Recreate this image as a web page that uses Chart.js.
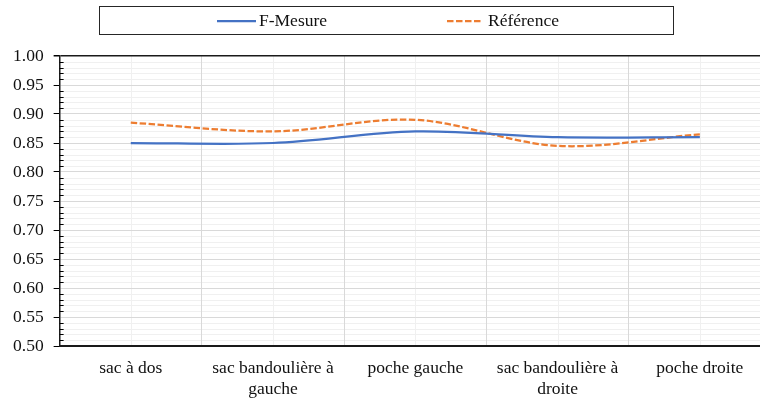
<!DOCTYPE html>
<html>
<head>
<meta charset="utf-8">
<script src="https://cdn.jsdelivr.net/npm/chart.js@4"></script>
<style>
  html, body { margin: 0; padding: 0; background: #fff; overflow: hidden; }
  #wrap { width: 760px; height: 400px; overflow: hidden; }
</style>
</head>
<body>
<div id="wrap"><canvas id="myChart" width="772" height="412"></canvas></div>
<script>
// categories (les libellés longs passent sur deux lignes)
const categories = ["sac à dos", ["sac bandoulière à", "gauche"], "poche gauche", ["sac bandoulière à", "droite"], "poche droite"];
const fMesure = [0.85, 0.85, 0.87, 0.86, 0.86];
const reference = [0.885, 0.87, 0.89, 0.845, 0.865];
const seriesNames = ["F-Mesure", "Référence"];
const yMin = 0.5;
const yMax = 1.0;
const yStep = 0.05;
const yMinorStep = 0.01;

const font = "'Liberation Serif', 'Times New Roman', serif";

// petit quadrillage secondaire + graduations mineures
const minorGrid = {
	id: "minorGrid",
	beforeDraw(chart) {
		const { ctx, chartArea, scales } = chart;
		const y = scales.y;
		const x = scales.x;
		ctx.save();
		ctx.lineWidth = 1;
		ctx.strokeStyle = "#f0f0f0";
		const n = Math.round((yMax - yMin) / yMinorStep);
		for (let i = 1; i < n; i++) {
			if (i % 5 === 0) continue;
			const py = Math.round(y.getPixelForValue(yMin + i * yMinorStep)) + 0.5;
			ctx.beginPath();
			ctx.moveTo(chartArea.left, py);
			ctx.lineTo(chartArea.right, py);
			ctx.stroke();
		}
		categories.forEach((c, i) => {
			const px = Math.round(x.getPixelForValue(i)) + 0.5;
			ctx.beginPath();
			ctx.moveTo(px, chartArea.top);
			ctx.lineTo(px, chartArea.bottom);
			ctx.stroke();
		});
		ctx.restore();
	},
	afterDraw(chart) {
		const { ctx, chartArea, scales } = chart;
		const y = scales.y;
		ctx.save();
		ctx.strokeStyle = "#000";
		ctx.lineWidth = 1;
		const n = Math.round((yMax - yMin) / yMinorStep);
		for (let i = 1; i < n; i++) {
			if (i % 5 === 0) continue;
			const py = Math.round(y.getPixelForValue(yMin + i * yMinorStep)) + 0.5;
			ctx.beginPath();
			ctx.moveTo(chartArea.left, py);
			ctx.lineTo(chartArea.left + 4, py);
			ctx.stroke();
		}
		ctx.restore();
	}
};

// légende encadrée façon Excel
const boxLegend = {
	id: "boxLegend",
	afterDraw(chart) {
		const ctx = chart.ctx;
		ctx.save();
		ctx.strokeStyle = "#262626";
		ctx.lineWidth = 1;
		ctx.strokeRect(99.5, 6.5, 574, 28);
		const items = [
			{ x1: 217, x2: 256, tx: 259 },
			{ x1: 447, x2: 481, tx: 488 }
		];
		chart.data.datasets.forEach((ds, i) => {
			const it = items[i];
			ctx.strokeStyle = ds.borderColor;
			ctx.lineWidth = ds.borderWidth;
			ctx.setLineDash(ds.borderDash || []);
			ctx.beginPath();
			ctx.moveTo(it.x1, 21);
			ctx.lineTo(it.x2, 21);
			ctx.stroke();
			ctx.setLineDash([]);
			ctx.fillStyle = "#111";
			ctx.font = "17.5px " + font;
			ctx.textBaseline = "middle";
			ctx.fillText(ds.label, it.tx, 21);
		});
		ctx.restore();
	}
};

const data = {
	labels: categories,
	datasets: [
		{
			label: seriesNames[0],
			data: fMesure,
			borderColor: "#4472C4",
			backgroundColor: "#4472C4",
			borderWidth: 2.25,
			pointRadius: 0,
			tension: 0.33
		},
		{
			label: seriesNames[1],
			data: reference,
			borderColor: "#ED7D31",
			backgroundColor: "#ED7D31",
			borderWidth: 2.25,
			borderDash: [6.5, 2.5],
			pointRadius: 0,
			tension: 0.33
		}
	]
};

const config = {
	type: "line",
	data,
	options: {
		responsive: false,
		animation: false,
		layout: { padding: { top: 56, left: 3, right: 1, bottom: 0 } },
		plugins: {
			legend: { display: false },
			tooltip: { enabled: false }
		},
		scales: {
			x: {
				offset: true,
				grid: {
					offset: true,
					color: "#d9d9d9",
					drawTicks: false
				},
				border: { color: "#1a1a1a", width: 2 },
				ticks: {
					color: "#111",
					padding: 12,
					maxRotation: 0,
					autoSkip: false,
					font: { family: font, size: 17.5, lineHeight: 1.2 }
				}
			},
			y: {
				min: yMin,
				max: yMax,
				grid: {
					color: ctx => (ctx.tick && ctx.tick.value >= yMax - 1e-6 ? "#1a1a1a" : "#d9d9d9"),
					lineWidth: ctx => (ctx.tick && ctx.tick.value >= yMax - 1e-6 ? 1.5 : 1),
					tickColor: "#000",
					tickLength: 6
				},
				border: { color: "#1a1a1a", width: 1.5 },
				ticks: {
					stepSize: yStep,
					color: "#111",
					padding: 10,
					font: { family: font, size: 17.5 },
					callback: v => Number(v).toFixed(2)
				}
			}
		}
	},
	plugins: [minorGrid, boxLegend]
};

new Chart(document.getElementById("myChart"), config);
</script>
</body>
</html>
